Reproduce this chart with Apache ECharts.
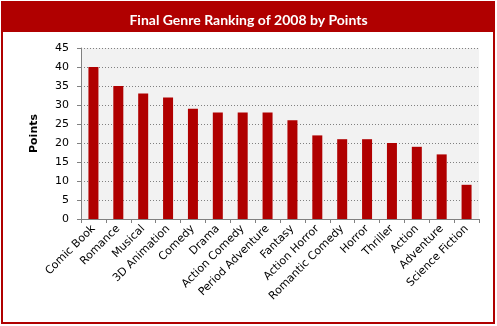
<!DOCTYPE html>
<html><head><meta charset="utf-8">
<script src="https://cdn.jsdelivr.net/npm/echarts@6/dist/echarts.min.js"></script>
<style>html,body{margin:0;padding:0;background:#fff}#c{width:497px;height:326px}</style>
</head><body><div id="c"></div>
<script>
const categories = ['Comic Book','Romance','Musical','3D Animation','Comedy','Drama','Action Comedy','Period Adventure','Fantasy','Action Horror','Romantic Comedy','Horror','Thriller','Action','Adventure','Science Fiction'];
const points = [40,35,33,32,29,28,28,28,26,22,21,21,20,19,17,9];
const titleText = 'Final Genre Ranking of 2008 by Points';
const yName = 'Points';

const chart = echarts.init(document.getElementById('c'), null, {renderer:'canvas'});
const red = '#b00000';
const font = '"DejaVu Sans", Verdana, sans-serif';
chart.setOption({
  animation:false,
  backgroundColor:'#fff',
  graphic:[
    {type:'rect', shape:{x:2,y:2,width:492,height:321}, style:{fill:'none', stroke:red, lineWidth:2}, z:0},
    {type:'rect', shape:{x:2,y:2,width:492,height:30}, style:{fill:red}, z:0}
  ],
  title:{text:titleText, left:'center', top:8, textStyle:{color:'#fff', fontSize:14, fontWeight:'bold', fontFamily:'Lato, "Open Sans", sans-serif'}},
  grid:{left:81, right:18, top:48, bottom:107, backgroundColor:'#f2f2f2', show:true, borderWidth:0},
  xAxis:{type:'category', data:categories,
    axisLine:{lineStyle:{color:'#808080'}},
    axisTick:{show:true, length:4, lineStyle:{color:'#808080'}},
    axisLabel:{rotate:45, interval:0, color:'#000', fontSize:11, fontFamily:font, margin:8}},
  yAxis:{type:'value', min:0, max:45, interval:5,
    name:yName, nameLocation:'middle', nameGap:41, nameRotate:90,
    nameTextStyle:{color:'#000', fontSize:11, fontWeight:'bold', fontFamily:font},
    axisLine:{show:true, lineStyle:{color:'#808080'}},
    axisTick:{show:true, length:4, lineStyle:{color:'#808080'}},
    axisLabel:{color:'#000', fontSize:11, fontFamily:font, margin:12},
    splitLine:{lineStyle:{color:'#808080', type:[1,2], width:1}}},
  series:[{type:'bar', data:points, barWidth:10, itemStyle:{color:red}}]
});
</script></body></html>
